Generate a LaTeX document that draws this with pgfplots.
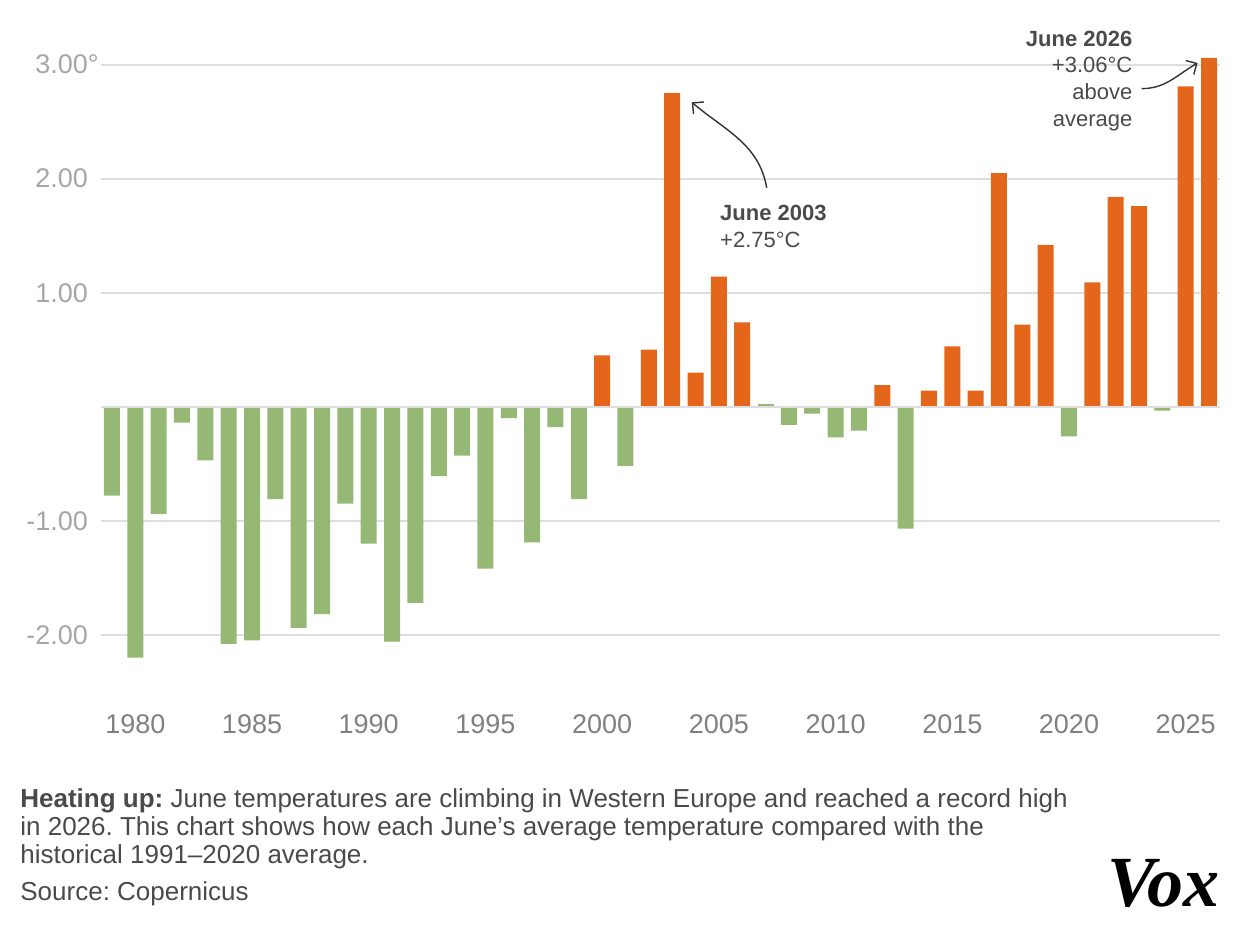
\documentclass[border=0pt]{standalone}
\usepackage{pgfplots}
\pgfplotsset{compat=1.18}
\usepackage{fontspec}
\setmainfont{Liberation Sans}
\newfontfamily\voxfont{Liberation Serif}
\usetikzlibrary{arrows.meta}
\definecolor{barpos}{HTML}{E4661B}
\definecolor{barneg}{HTML}{95B975}
\definecolor{gridc}{HTML}{DEDEDE}
\definecolor{ytick}{HTML}{A6A6A6}
\definecolor{xtick}{HTML}{808080}
\definecolor{txt}{HTML}{4A4A4A}
\definecolor{arrowc}{HTML}{333333}
\frenchspacing
\begin{document}
\frenchspacing
\begin{tikzpicture}
\path[use as bounding box] (0,0) rectangle (620pt,464pt);
\begin{axis}[
  at={(50.5pt,118.15pt)}, anchor=south west,
  scale only axis, width=559.5pt, height=324.9pt,
  xmin=1978.53, xmax=2026.47, ymin=-2.5, ymax=3.2,
  axis line style={draw=none}, clip=false,
  ybar, bar width=8pt,
  xtick={1980,1985,1990,1995,2000,2005,2010,2015,2020,2025},
  xticklabels={1980,1985,1990,1995,2000,2005,2010,2015,2020,2025},
  ytick={-2,-1,1,2,3},
  yticklabels={-2.00,-1.00,1.00,2.00,3.00\rlap{°}},
  /pgf/number format/assume math mode=true,
  ymajorgrids, major grid style={gridc, line width=0.8pt},
  yticklabel style={font=\fontsize{13.5}{16}\selectfont, text=ytick, anchor=east, xshift=-3pt},
  xticklabel style={font=\fontsize{13.5}{16}\selectfont, text=xtick, anchor=north, yshift=-8pt},
  major tick length=0pt, tick style={draw=none},
  xtick pos=bottom, ytick pos=left,
]
\addplot[fill=barneg, draw=none, bar shift=0pt] coordinates {
(1979,-0.78) (1980,-2.20) (1981,-0.94) (1982,-0.14) (1983,-0.47) (1984,-2.08)
(1985,-2.05) (1986,-0.81) (1987,-1.94) (1988,-1.82) (1989,-0.85) (1990,-1.20)
(1991,-2.06) (1992,-1.72) (1993,-0.61) (1994,-0.43) (1995,-1.42) (1996,-0.10)
(1997,-1.19) (1998,-0.18) (1999,-0.81) (2001,-0.52) (2008,-0.16) (2009,-0.06)
(2010,-0.27) (2011,-0.21) (2013,-1.07) (2020,-0.26) (2024,-0.035)
};
\addplot[fill=barpos, draw=none, bar shift=0pt] coordinates {
(2000,0.45) (2002,0.50) (2003,2.75) (2004,0.30) (2005,1.14) (2006,0.74)
(2012,0.19) (2014,0.14) (2015,0.53) (2016,0.14) (2017,2.05) (2018,0.72)
(2019,1.42) (2021,1.09) (2022,1.84) (2023,1.76) (2025,2.81) (2026,3.06)
};
\addplot[fill=barneg, draw=none, bar shift=0pt] coordinates {(2007,0.02)};
\draw[gridc, line width=0.9pt] (axis cs:1978.53,0) -- (axis cs:2026.47,0);
% annotations
\node[anchor=north west, inner sep=0pt, align=left, text=txt, font=\fontsize{11}{13.5}\selectfont]
  at (axis cs:2005.04,1.77) {\textbf{June 2003}\\+2.75°C};
\draw[arrowc, line width=0.7pt, -{Straight Barb[length=4pt,width=8pt]}]
  (axis cs:2007.05,1.92) to[out=100, in=-40] (axis cs:2003.84,2.67);
\node[anchor=north east, inner sep=0pt, align=right, text=txt, font=\fontsize{11}{13.35}\selectfont]
  at (axis cs:2022.73,3.30) {\textbf{June 2026}\\+3.06°C\\above\\average};
\draw[arrowc, line width=0.7pt, -{Straight Barb[length=4pt,width=8pt]}]
  (axis cs:2023.11,2.79) to[out=0, in=-150] (axis cs:2025.51,3.015);
\end{axis}
\begin{scope}[x=0.5pt, y=-0.5pt, shift={(0,464pt)}]
\node[anchor=base west, inner sep=0pt, text=txt, font=\fontsize{13}{14}\selectfont] at (20,807.7)
  {\textbf{Heating up:} June temperatures are climbing in Western Europe and reached a record high};
\node[anchor=base west, inner sep=0pt, text=txt, font=\fontsize{13}{14}\selectfont] at (20,835.7)
  {in 2026. This chart shows how each June’s average temperature compared with the};
\node[anchor=base west, inner sep=0pt, text=txt, font=\fontsize{13}{14}\selectfont] at (20,863.3)
  {historical 1991–2020 average.};
\node[anchor=base west, inner sep=0pt, text=txt, font=\fontsize{13}{14}\selectfont] at (20,900.7)
  {Source: Copernicus};
\node[anchor=base east, inner sep=0pt, text=black, font=\voxfont\bfseries\itshape\fontsize{36}{40}\selectfont] at (1220,906)
  {Vox};
\end{scope}
\end{tikzpicture}
\end{document}
